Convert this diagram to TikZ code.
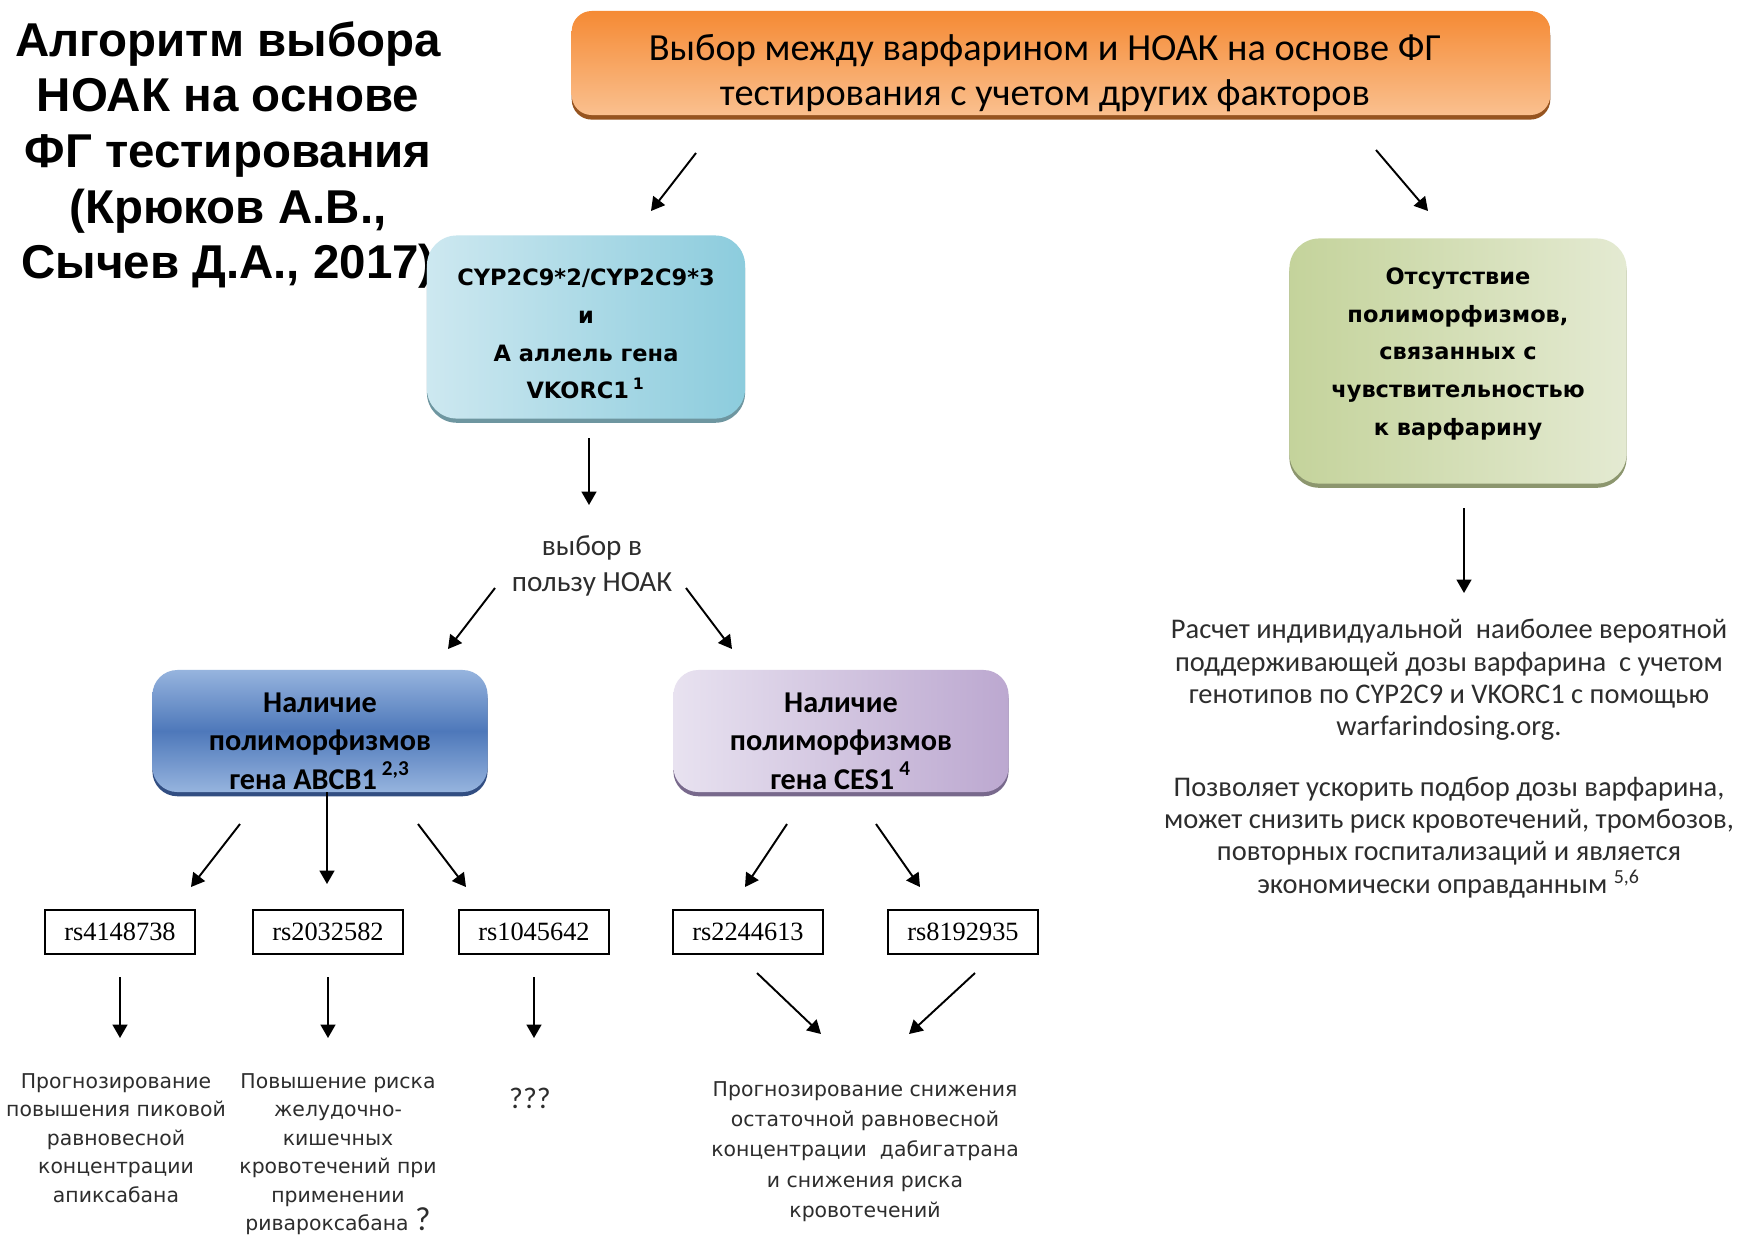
\documentclass[tikz,border=0pt]{standalone}
\usepackage{fontspec}
\setmainfont{Carlito}
\newfontfamily\headfont{Liberation Sans}
\newfontfamily\widefont{DejaVu Sans}
\newfontfamily\rsfont{Liberation Serif}
\usepackage{tikz}
\usetikzlibrary{arrows.meta, positioning, shadows}
\definecolor{orangetop}{RGB}{245,138,52}
\definecolor{orangebot}{RGB}{250,192,143}
\definecolor{orangeedge}{RGB}{150,84,32}
\definecolor{cyanleft}{RGB}{205,232,240}
\definecolor{cyanright}{RGB}{140,204,221}
\definecolor{cyanedge}{RGB}{110,150,160}
\definecolor{greenleft}{RGB}{196,211,155}
\definecolor{greenright}{RGB}{228,234,210}
\definecolor{greenedge}{RGB}{140,150,110}
\definecolor{bluetop}{RGB}{150,180,222}
\definecolor{bluemid}{RGB}{78,120,186}
\definecolor{blueedge}{RGB}{50,78,130}
\definecolor{lilacleft}{RGB}{232,226,240}
\definecolor{lilacright}{RGB}{188,168,208}
\definecolor{lilacedge}{RGB}{120,105,140}
\definecolor{textgray}{RGB}{45,45,45}

\begin{document}
\begin{tikzpicture}[
    x=0.01cm, y=-0.01cm,
    heading/.style={align=center, font=\headfont\bfseries\fontsize{13.5}{15.8}\selectfont},
    topbox/.style={rectangle, rounded corners=0.2cm, minimum width=9.78cm, minimum height=1.04cm, top color=orangetop, bottom color=orangebot, drop shadow={shadow xshift=0pt, shadow yshift=-1.3pt, fill=orangeedge, opacity=1}},
    toptext/.style={align=center, font=\fontsize{10.9}{12.6}\selectfont},
    genebox/.style={rectangle, rounded corners=0.3cm},
    genetext/.style={align=center, font=\widefont\bfseries\fontsize{6.4}{10.7}\selectfont},
    cypbox/.style={genebox, minimum width=3.18cm, minimum height=1.83cm, left color=cyanleft, right color=cyanright, drop shadow={shadow xshift=0pt, shadow yshift=-1.2pt, fill=cyanedge, opacity=1}},
    freebox/.style={genebox, minimum width=3.37cm, minimum height=2.45cm, left color=greenleft, right color=greenright, drop shadow={shadow xshift=0pt, shadow yshift=-1.2pt, fill=greenedge, opacity=1}},
    polybox/.style={rectangle, rounded corners=0.25cm, minimum width=3.35cm, minimum height=1.22cm},
    polytext/.style={align=center, font=\bfseries\fontsize{8.6}{11}\selectfont},
    abcbbox/.style={polybox, top color=bluetop, bottom color=bluetop, middle color=bluemid, drop shadow={shadow xshift=0pt, shadow yshift=-1.2pt, fill=blueedge, opacity=1}},
    cesbox/.style={polybox, left color=lilacleft, right color=lilacright, drop shadow={shadow xshift=0pt, shadow yshift=-1.2pt, fill=lilacedge, opacity=1}},
    rsbox/.style={rectangle, draw, line width=0.6pt, minimum width=1.5cm, minimum height=0.44cm, inner sep=0pt, font=\rsfont\fontsize{7.5}{9}\selectfont},
    result/.style={align=center, anchor=north, text=textgray, font=\widefont\fontsize{5.8}{8.1}\selectfont},
    note/.style={align=center, text=textgray, font=\fontsize{8.3}{10.2}\selectfont},
    calcnote/.style={align=center, text=textgray, font=\fontsize{8.1}{9.2}\selectfont},
    arrow/.style={-{Triangle[length=3.8pt, width=4.2pt]}, line width=0.55pt}
]
\path[fill=white, use as bounding box] (0,0) rectangle (1739,1241);

% Title
\node[heading] (heading) at (228,155) {Алгоритм выбора\\НОАК на основе\\ФГ тестирования\\(Крюков А.В.,\\Сычев Д.А., 2017)};

% Top decision
\node[topbox] (choice) at (1061,63) {};
\node[toptext] (choicetext) at ([xshift=-0.16cm, yshift=-0.1cm]choice.center) {Выбор между варфарином и НОАК на основе ФГ\\тестирования с учетом других факторов};

% Genotype boxes
\node[cypbox] (cyp) at (586,327) {};
\node[genetext] (cyptext) at ([yshift=-0.07cm]cyp.center) {CYP2C9*2/CYP2C9*3\\и\\А аллель гена\\VKORC1\,\textsuperscript{1}};
\node[freebox] (nopoly) at (1458,361) {};
\node[genetext] (nopolytext) at ([yshift=0.07cm]nopoly.center) {Отсутствие\\полиморфизмов,\\связанных с\\чувствительностью\\к варфарину};

\node[note] (prefer) at (592,566) {выбор в\\пользу НОАК};

% Polymorphism boxes
\node[abcbbox] (abcb) at (320,731) {};
\node[polytext] (abcbtext) at ([yshift=-0.1cm]abcb.center) {Наличие\\полиморфизмов\\гена ABCB1\,\textsuperscript{2,3}};
\node[cesbox] (ces) at (841,731) {};
\node[polytext] (cestext) at ([yshift=-0.1cm]ces.center) {Наличие\\полиморфизмов\\гена CES1\,\textsuperscript{4}};

% SNP boxes
\node[rsbox] (rs1) at (120,932) {rs4148738};
\node[rsbox] (rs2) at (328,932) {rs2032582};
\node[rsbox] (rs3) at (534,932) {rs1045642};
\node[rsbox] (rs4) at (748,932) {rs2244613};
\node[rsbox] (rs5) at (963,932) {rs8192935};

% Outcomes
\node[result] (apix) at (116,1061) {Прогнозирование\\повышения пиковой\\равновесной\\концентрации\\апиксабана};
\node[result] (rivar) at (338,1061) {Повышение риска\\желудочно-\\кишечных\\кровотечений при\\применении\\ривароксабана {\normalfont\fontsize{9.5}{8}\selectfont ?}};
\node[note, font=\fontsize{8.5}{10}\selectfont] (unknown) at (530,1098) {???};
\node[result, font=\widefont\fontsize{5.8}{8.6}\selectfont] (dabig) at (865,1069) {Прогнозирование снижения\\остаточной равновесной\\концентрации~ дабигатрана\\и снижения риска\\кровотечений};

\node[calcnote, anchor=north] (dosing) at (1449,607) {Расчет индивидуальной~ наиболее вероятной\\поддерживающей дозы варфарина~ с учетом\\генотипов по CYP2C9 и VKORC1 с помощью\\warfarindosing.org.};
\node[calcnote, below=0.11cm of dosing] (benefit) {Позволяет ускорить подбор дозы варфарина,\\может снизить риск кровотечений, тромбозов,\\повторных госпитализаций и является\\экономически оправданным \textsuperscript{5,6}};

% Arrow ends
\coordinate (c1a) at (696,153);  \coordinate (c1b) at (651,211);
\coordinate (c2a) at (1376,150); \coordinate (c2b) at (1428,211);
\coordinate (c3a) at (589,438);  \coordinate (c3b) at (589,505);
\coordinate (c4a) at (495,588);  \coordinate (c4b) at (448,649);
\coordinate (c5a) at (686,588);  \coordinate (c5b) at (732,649);
\coordinate (c6a) at (1464,508); \coordinate (c6b) at (1464,593);
\coordinate (a1a) at (240,824);  \coordinate (a1b) at (191,887);
\coordinate (a2a) at (327,792);  \coordinate (a2b) at (327,884);
\coordinate (a3a) at (418,824);  \coordinate (a3b) at (466,887);
\coordinate (e1a) at (787,824);  \coordinate (e1b) at (745,887);
\coordinate (e2a) at (876,824);  \coordinate (e2b) at (920,887);
\coordinate (r1a) at (120,977);  \coordinate (r1b) at (120,1038);
\coordinate (r2a) at (328,977);  \coordinate (r2b) at (328,1038);
\coordinate (r3a) at (534,977);  \coordinate (r3b) at (534,1038);
\coordinate (r4a) at (757,973);  \coordinate (r4b) at (821,1034);
\coordinate (r5a) at (975,973);  \coordinate (r5b) at (909,1034);

% Arrows
\draw[arrow] (c1a) -- (c1b);
\draw[arrow] (c2a) -- (c2b);
\draw[arrow] (c3a) -- (c3b);
\draw[arrow] (c4a) -- (c4b);
\draw[arrow] (c5a) -- (c5b);
\draw[arrow] (c6a) -- (c6b);
\draw[arrow] (a1a) -- (a1b);
\draw[arrow] (a2a) -- (a2b);
\draw[arrow] (a3a) -- (a3b);
\draw[arrow] (e1a) -- (e1b);
\draw[arrow] (e2a) -- (e2b);
\draw[arrow] (r1a) -- (r1b);
\draw[arrow] (r2a) -- (r2b);
\draw[arrow] (r3a) -- (r3b);
\draw[arrow] (r4a) -- (r4b);
\draw[arrow] (r5a) -- (r5b);

\end{tikzpicture}
\end{document}
